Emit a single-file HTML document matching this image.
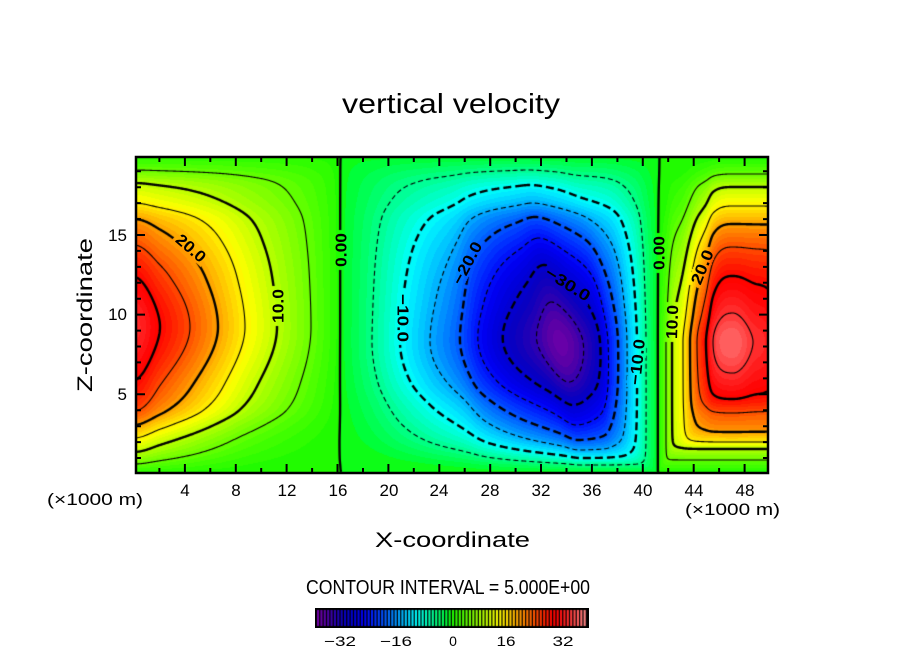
<!DOCTYPE html>
<html><head><meta charset="utf-8">
<style>
html,body{margin:0;padding:0;background:#fff;}
#wrap{position:relative;width:904px;height:654px;overflow:hidden;background:#fff;}
#bg{position:absolute;left:136px;top:157px;width:632px;height:316px;background:linear-gradient(to right,#ff2020 0%,#ffb000 14%,#60ff00 25%,#20f500 32%,#00ffc0 40%,#0060ff 52%,#0000d0 67%,#00ffff 78%,#20f500 82%,#ffd000 87%,#ff3030 94%,#ff3030 100%);}
canvas{position:absolute;}
svg{position:absolute;left:0;top:0;}
</style></head><body>
<div id="wrap">
<div id="bg"></div>
<canvas id="f" width="632" height="316" style="left:136px;top:157px"></canvas>
<canvas id="l" width="632" height="316" style="left:136px;top:157px"></canvas>
<canvas id="cb" width="274" height="20" style="left:315px;top:608px"></canvas>
<svg width="904" height="654" viewBox="0 0 904 654">
<rect x="136" y="157" width="632" height="316" fill="none" stroke="#000" stroke-width="2.5"/>
<path id="ticks" d="" stroke="#000" stroke-width="2" fill="none"/>
<g font-family="Liberation Sans, sans-serif" fill="#000">
<text x="342" y="113" font-size="28" textLength="218" lengthAdjust="spacingAndGlyphs">vertical velocity</text>
<text transform="translate(92 315) rotate(-90)" text-anchor="middle" font-size="21" textLength="154" lengthAdjust="spacingAndGlyphs">Z-coordinate</text>
<text x="375" y="547" font-size="21" textLength="155" lengthAdjust="spacingAndGlyphs">X-coordinate</text>
<g font-size="17" text-anchor="middle">
<text x="185" y="496">4</text><text x="236" y="496">8</text><text x="287" y="496">12</text><text x="338" y="496">16</text>
<text x="389" y="496">20</text><text x="439" y="496">24</text><text x="490" y="496">28</text><text x="541" y="496">32</text>
<text x="592" y="496">36</text><text x="643" y="496">40</text><text x="694" y="496">44</text><text x="745" y="496">48</text>
</g>
<g font-size="17" text-anchor="end">
<text x="127" y="400">5</text><text x="127" y="320">10</text><text x="127" y="241">15</text>
</g>
<text x="47" y="505" font-size="17" textLength="96" lengthAdjust="spacingAndGlyphs">(×1000 m)</text>
<text x="685" y="515" font-size="17" textLength="95" lengthAdjust="spacingAndGlyphs">(×1000 m)</text>
<text x="306" y="594" font-size="20" textLength="284" lengthAdjust="spacingAndGlyphs">CONTOUR INTERVAL = 5.000E+00</text>
<g font-size="14" text-anchor="middle">
<text x="340" y="646" textLength="32" lengthAdjust="spacingAndGlyphs">−32</text>
<text x="396" y="646" textLength="32" lengthAdjust="spacingAndGlyphs">−16</text>
<text x="453" y="646">0</text>
<text x="506" y="646" textLength="19" lengthAdjust="spacingAndGlyphs">16</text>
<text x="563" y="646" textLength="21" lengthAdjust="spacingAndGlyphs">32</text>
</g>
<g font-size="16" font-weight="bold" text-anchor="middle">
<text transform="translate(191 248) rotate(41)" dy="5.6" textLength="34" lengthAdjust="spacingAndGlyphs">20.0</text>
<text transform="translate(278 306) rotate(-90)" dy="5.6" textLength="34" lengthAdjust="spacingAndGlyphs">10.0</text>
<text transform="translate(341 250) rotate(-90)" dy="5.6" textLength="34" lengthAdjust="spacingAndGlyphs">0.00</text>
<text transform="translate(403 318) rotate(90)" dy="5.6" textLength="48" lengthAdjust="spacingAndGlyphs">−10.0</text>
<text transform="translate(467 263) rotate(-62)" dy="5.6" textLength="46" lengthAdjust="spacingAndGlyphs">−20.0</text>
<text transform="translate(568 284) rotate(32)" dy="5.6" textLength="50" lengthAdjust="spacingAndGlyphs">−30.0</text>
<text transform="translate(637 362) rotate(-84)" dy="5.6" textLength="46" lengthAdjust="spacingAndGlyphs">−10.0</text>
<text transform="translate(659 253) rotate(-90)" dy="5.6" textLength="34" lengthAdjust="spacingAndGlyphs">0.00</text>
<text transform="translate(672 322) rotate(-88)" dy="5.6" textLength="34" lengthAdjust="spacingAndGlyphs">10.0</text>
<text transform="translate(702 267) rotate(-68)" dy="5.6" textLength="36" lengthAdjust="spacingAndGlyphs">20.0</text>
</g>
</g>
</svg>
</div>
<script>
(function(){
var X0=136,Y0=157,W=632,H=316,NV=W*H;
var d='';
function xp(v){return 134+12.72*v;}
function yp(z){return 473.95-15.93*z;}
for(var v=2;v<=48;v+=2){var x=xp(v).toFixed(1),L=(v%4===0)?9:5;d+='M'+x+' 473V'+(473-L)+'M'+x+' 157V'+(157+L);}
for(var z=1;z<=19;z++){var y=yp(z).toFixed(1),L2=(z%5===0)?9:5;d+='M136 '+y+'H'+(136+L2)+'M768 '+y+'H'+(768-L2);}
document.getElementById('ticks').setAttribute('d',d);

function mono(xs,ys){
  var n=xs.length,dd=[],m=[],i;
  for(i=0;i<n-1;i++)dd.push((ys[i+1]-ys[i])/(xs[i+1]-xs[i]));
  m[0]=0;m[n-1]=dd[n-2];
  for(i=1;i<n-1;i++)m[i]=(dd[i-1]*dd[i]<=0)?0:(dd[i-1]+dd[i])/2;
  for(i=0;i<n-1;i++){
    if(dd[i]===0){m[i]=0;m[i+1]=0;continue;}
    var a=m[i]/dd[i],b=m[i+1]/dd[i],s=a*a+b*b;
    if(s>9){var t=3/Math.sqrt(s);m[i]=t*a*dd[i];m[i+1]=t*b*dd[i];}
  }
  return function(x){
    if(x<=xs[0])return ys[0];
    if(x>=xs[n-1])return ys[n-1];
    var i=0;while(x>xs[i+1])i++;
    var h=xs[i+1]-xs[i],t=(x-xs[i])/h,t2=t*t,t3=t2*t;
    return (2*t3-3*t2+1)*ys[i]+(t3-2*t2+t)*h*m[i]+(-2*t3+3*t2)*ys[i+1]+(t3-t2)*h*m[i+1];
  };
}
function prof(P){var ds=P[0],vs=P[1],p=vs[0],nn=[];for(var i=0;i<vs.length;i++)nn.push(vs[i]/p);return mono(ds,nn);}
function mk(cx,cy,A,Lp,Rp,Up,Dp,k,sh){return{cx:cx,cy:cy,A:A,fl:prof(Lp),fr:prof(Rp),fu:prof(Up),fd:prof(Dp),k:k,sh:sh||0};}
var vA=[34.5,30,25,20,15,10,5,0],vB=[38.5,35,30,25,20,15,10,5,0],vC=[38,35,30,25,20,15,10,5,0];
var cA=mk(134,327,34.5,[[0,26,56,84,111,143,177,209],vA],[[0,26,56,84,111,143,177,209],vA],[[0,50,82,108,124,144,157,174],vA],[[0,53,84,98,111,125,137,148],vA],[0.6,0.6,-0.3,-0.3]);
var cB=mk(560,342,-38.5,[[0,23,57,82,100,130,160,188,223],vB],[[0,23,40,48,58,67,77,86,99],vB],[[0,40,77,104,125,139,157,172,188],vB],[[0,40,63,83,98,108,116,123,132],vB],[0.5,0.2,-0.3,2],0.22);
var cC=mk(733,342,38,[[0,20,27,36,43,50,61,67,76],vC],[[0,20,35,70,120],[38,35,33.5,22,0]],[[0,29,66,95,118,136,155,168,186],vC],[[0,31,57,71,90,100,107,118,131],vC],[-0.3,5,4,5]);
function Hc(a,b,k){
  if(a<=0||b<=0)return 0;
  if(k<0){var cc=Math.min(1,-k/0.3);return a*b*(1-cc*(1-a)*(1-b));}
  if(k<1e-3)return a*b;
  var s=Math.pow(a,-k)+Math.pow(b,-k)-1;
  return Math.pow(s,-1/k);
}
function cv(c,x,y){
  var dx=x-c.cx,dy=y-c.cy;
  if(c.sh){
    var g=dx<0?Math.exp(-(dx/80)*(dx/80)):Math.exp(-(dx/40)*(dx/40));
    dx=dx-c.sh*dy*g;
  }
  var a=dx<0?c.fl(-dx):c.fr(dx);if(a<=0)return 0;
  var b=dy<0?c.fu(-dy):c.fd(dy);if(b<=0)return 0;
  var k=dy<0?(dx<0?c.k[0]:c.k[1]):(dx<0?c.k[2]:c.k[3]);
  return c.A*Hc(a,b,k);
}
function field(x,y){return cv(cA,x,y)+cv(cB,x,y)+cv(cC,x,y);}
var CS=[[-40,120,0,170],[-37,85,0,165],[-35,50,0,175],[-32,10,0,190],[-29,0,0,215],[-26,0,0,245],[-23,0,40,255],[-20,0,85,255],[-17,0,135,255],[-14,0,190,255],[-12,0,225,255],[-10,0,255,250],[-8,0,255,205],[-5,0,255,140],[-3,0,255,95],[-1,0,255,45],[0,25,250,0],[3,70,255,0],[6,120,255,0],[9,170,255,0],[12,220,255,0],[14,255,255,0],[17,255,210,0],[20,255,160,0],[23,255,110,0],[26,255,60,0],[29,255,15,0],[31,255,0,0],[34,255,35,35],[37,255,85,85],[40,255,140,140]];
function cmap(v){
  if(v<=CS[0][0])return [CS[0][1],CS[0][2],CS[0][3]];
  for(var i=1;i<CS.length;i++){
    if(v<=CS[i][0]){
      var t=(v-CS[i-1][0])/(CS[i][0]-CS[i-1][0]);
      return [Math.round(CS[i-1][1]+t*(CS[i][1]-CS[i-1][1])),Math.round(CS[i-1][2]+t*(CS[i][2]-CS[i-1][2])),Math.round(CS[i-1][3]+t*(CS[i][3]-CS[i-1][3]))];
    }
  }
  var e=CS[CS.length-1];return [e[1],e[2],e[3]];
}
var band=[];for(var bb=-40;bb<40;bb++)band.push(cmap(bb+0.5));
function bc(v){var b=Math.floor(v);if(b<-40)b=-40;if(b>39)b=39;return band[b+40];}

var fc=document.getElementById('f').getContext('2d');
var img=fc.createImageData(W,H),dat=img.data;
var vals=new Float32Array(NV);
for(var j=0;j<H;j++){
  var yy=Y0+j+0.5;
  for(var i=0;i<W;i++){
    var vv=field(X0+i+0.5,yy);
    vals[j*W+i]=vv;
    var c=bc(vv),p=(j*W+i)*4;
    dat[p]=c[0];dat[p+1]=c[1];dat[p+2]=c[2];dat[p+3]=255;
  }
}
fc.putImageData(img,0,0);

var lc=document.getElementById('l').getContext('2d');
lc.lineJoin='round';lc.lineCap='butt';lc.strokeStyle='#000';
var TAB=[[],[[3,2]],[[2,1]],[[3,1]],[[0,1]],[[0,1],[3,2]],[[0,2]],[[3,0]],[[3,0]],[[0,2]],[[3,0],[2,1]],[[0,1]],[[3,1]],[[2,1]],[[3,2]],[]];
function ept(e,L){
  var i0,j0,i1,j1;
  if(e<NV){j0=Math.floor(e/W);i0=e-j0*W;i1=i0+1;j1=j0;}
  else{var q=e-NV;j0=Math.floor(q/W);i0=q-j0*W;i1=i0;j1=j0+1;}
  var v0=vals[j0*W+i0],v1=vals[j1*W+i1];
  var t=(L-v0)/(v1-v0);if(!isFinite(t))t=0.5;
  return [i0+0.5+t*(i1-i0),j0+0.5+t*(j1-j0)];
}
var levels=[-35,-30,-25,-20,-15,-10,-5,0,5,10,15,20,25,30,35];
levels.forEach(function(L){
  var s1=[],s2=[],adj=new Map();
  for(var j=0;j<H-1;j++){
    for(var i=0;i<W-1;i++){
      var q0=vals[j*W+i],q1=vals[j*W+i+1],q2=vals[(j+1)*W+i+1],q3=vals[(j+1)*W+i];
      if(L===0&&(q0===0||q1===0||q2===0||q3===0))continue;
      var c=(q0>=L?8:0)|(q1>=L?4:0)|(q2>=L?2:0)|(q3>=L?1:0);
      if(c===0||c===15)continue;
      var ed=[j*W+i,NV+j*W+i+1,(j+1)*W+i,NV+j*W+i];
      var t=TAB[c];
      for(var q=0;q<t.length;q++){
        var a=ed[t[q][0]],b=ed[t[q][1]],n=s1.length;
        s1.push(a);s2.push(b);
        if(!adj.has(a))adj.set(a,[]);adj.get(a).push(n);
        if(!adj.has(b))adj.set(b,[]);adj.get(b).push(n);
      }
    }
  }
  var ns=s1.length,used=new Uint8Array(ns);
  function ext(e){
    var out=[];
    while(true){
      var lst=adj.get(e),nx=-1;
      for(var r=0;r<lst.length;r++){if(!used[lst[r]]){nx=lst[r];break;}}
      if(nx<0)break;
      used[nx]=1;
      var o=(s1[nx]===e)?s2[nx]:s1[nx];
      out.push(o);e=o;
    }
    return out;
  }
  var thick=(L%10===0);
  lc.lineWidth=thick?2.4:1.1;
  lc.setLineDash(L<0?(thick?[8,4]:[5,3]):[]);
  function draw(chain){
    if(chain.length<2)return;
    lc.beginPath();
    var p0=ept(chain[0],L);lc.moveTo(p0[0],p0[1]);
    for(var r=1;r<chain.length;r++){var pp=ept(chain[r],L);lc.lineTo(pp[0],pp[1]);}
    lc.stroke();
  }
  for(var s=0;s<ns;s++){
    if(used[s])continue;
    if(adj.get(s1[s]).length===1||adj.get(s2[s]).length===1){
      var start=adj.get(s1[s]).length===1?s1[s]:s2[s];
      var other=(start===s1[s])?s2[s]:s1[s];
      used[s]=1;
      draw([start,other].concat(ext(other)));
    }
  }
  for(s=0;s<ns;s++){
    if(used[s])continue;
    used[s]=1;
    var fw=ext(s2[s]);
    var bk=ext(s1[s]);
    bk.reverse();
    draw(bk.concat([s1[s],s2[s]]).concat(fw));
  }
});
lc.setLineDash([]);
var LB=[[191,248,41,34],[278,306,-90,34],[341,250,-90,34],[403,318,90,48],[467,263,-62,46],[568,284,32,50],[637,362,-84,46],[659,253,-90,34],[672,322,-88,34],[702,267,-68,36]];
LB.forEach(function(b){
  lc.save();lc.translate(b[0]-X0,b[1]-Y0);lc.rotate(b[2]*Math.PI/180);
  lc.clearRect(-b[3]/2-3,-8,b[3]+6,16);lc.restore();
});

var cb=document.getElementById('cb').getContext('2d');
cb.fillStyle='#000';cb.fillRect(0,0,274,20);
for(var k=0;k<80;k++){
  var col=band[k];
  cb.fillStyle='rgb('+col[0]+','+col[1]+','+col[2]+')';
  cb.fillRect(2+k*3.375,2,2.1,16);
}
})();
</script>
</body></html>
